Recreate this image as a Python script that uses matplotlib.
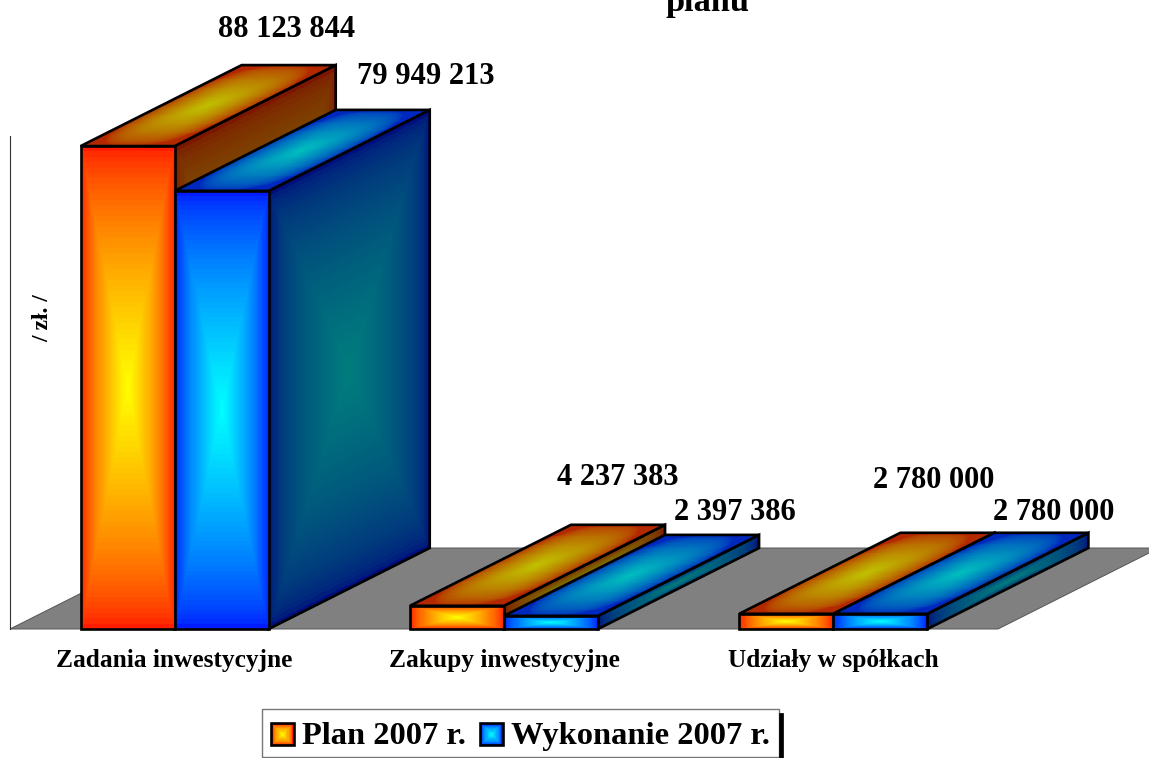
# ==========================================
# 3D BAR CHART - PLAN / WYKONANIE 2007
# ==========================================

import numpy as np
import matplotlib
matplotlib.use('Agg')
import matplotlib.pyplot as plt
from matplotlib.legend_handler import HandlerBase
from matplotlib.lines import Line2D
from matplotlib.patches import Patch, Polygon, Rectangle

plt.rcParams['font.family'] = ['Liberation Serif', 'DejaVu Sans']
plt.rcParams['font.weight'] = 'bold'

# ==========================================
# DATA
# ==========================================

categories = ['Zadania inwestycyjne', 'Zakupy inwestycyjne', 'Udziały w spółkach']
series_names = ['Plan 2007 r.', 'Wykonanie 2007 r.']
plan = [88123844, 4237383, 2780000]
wykonanie = [79949213, 2397386, 2780000]

# ==========================================
# STYLE
# ==========================================

W, H = 1149, 758
BAR_W = 0.2855
DEPTH_X = 0.489
DEPTH_Y = 14.78e6
LEGEND_SHIFT = -3.6  # legend content sits a bit low in its frame, in points

# edge colour, centre colour of each face
red_faces = {
    'front': ((255, 28, 0), (255, 255, 0)),
    'top': ((180, 40, 0), (192, 192, 0)),
    'side': ((125, 22, 0), (125, 125, 0)),
}
blue_faces = {
    'front': ((0, 28, 255), (0, 255, 255)),
    'top': ((0, 40, 190), (0, 190, 190)),
    'side': ((0, 15, 125), (0, 125, 125)),
}

# data label offsets in pixels from the back centre of the bar top
label_offsets = [
    [(-2, 36), (43, 33)],
    [(0, 47), (23, 22)],
    [(-14, 52), (12, 20)],
]


def shade(edge, centre, power, gamma, n=90):
    # power 0 means square shading, otherwise a rounded one
    u, v = np.meshgrid(np.linspace(0, 1, n), np.linspace(0, 1, n))
    a, b = np.abs(2 * u - 1), np.abs(2 * v - 1)
    if power == 0:
        d = np.maximum(a, b)
    else:
        d = (a ** power + b ** power) ** (1 / power)
    t = np.clip(1 - d, 0, 1)[..., None] ** gamma
    return np.clip((np.array(edge) * (1 - t) + np.array(centre) * t) / 255, 0, 1)


def draw_face(ax, corners, colours, power, gamma, z):
    # corners: bottom-left, bottom-right, top-right, top-left
    c = np.array(corners, dtype=float)
    n = 90
    s, r = np.meshgrid(np.linspace(0, 1, n + 1), np.linspace(0, 1, n + 1))
    bottom = c[0] + (c[1] - c[0]) * s[..., None]
    top = c[3] + (c[2] - c[3]) * s[..., None]
    xy = bottom + (top - bottom) * r[..., None]
    ax.pcolormesh(xy[..., 0], xy[..., 1], shade(*colours, power, gamma, n=n),
                  shading='flat', antialiased=False, linewidth=0,
                  clip_on=False, zorder=z, rasterized=True)
    ax.add_patch(Polygon(c, closed=True, fill=False, edgecolor='black',
                         linewidth=1.9, joinstyle='miter',
                         clip_on=False, zorder=z + 0.5))


def draw_bar(ax, x0, value, faces, z):
    x1 = x0 + BAR_W
    draw_face(ax, [(x1, 0), (x1 + DEPTH_X, DEPTH_Y),
                   (x1 + DEPTH_X, DEPTH_Y + value), (x1, value)],
              faces['side'], 0, 0.5, z)
    draw_face(ax, [(x0, value), (x1, value), (x1 + DEPTH_X, value + DEPTH_Y),
                   (x0 + DEPTH_X, value + DEPTH_Y)],
              faces['top'], 3, 0.6, z + 1)
    draw_face(ax, [(x0, 0), (x1, 0), (x1, value), (x0, value)],
              faces['front'], 0, 0.7, z + 2)


class GradientSquare(HandlerBase):
    # legend key: square made of nested rectangles
    def __init__(self, edge, centre):
        super().__init__()
        self.edge = np.array(edge)
        self.centre = np.array(centre)

    def create_artists(self, legend, orig_handle, xdescent, ydescent,
                       width, height, fontsize, trans):
        size = min(width, height)
        x = (width - size) / 2 - xdescent
        y = (height - size) / 2 - ydescent + LEGEND_SHIFT
        artists = []
        steps = 9
        for i in range(steps):
            f = i / steps
            inset = f * size / 2
            g = f ** 0.6
            col = np.clip((self.edge * (1 - g) + self.centre * g) / 255, 0, 1)
            artists.append(Rectangle((x + inset, y + inset), size - 2 * inset,
                                     size - 2 * inset, facecolor=col,
                                     edgecolor='none', transform=trans))
        artists.append(Rectangle((x, y), size, size, fill=False, edgecolor='black',
                                 linewidth=1.9, transform=trans))
        return artists


# ==========================================
# AXES
# ==========================================

fig = plt.figure(figsize=(W / 100, H / 100), dpi=100)
ax = fig.add_axes([10 / W, 129 / H, 988 / W, 493.2 / H])
ax.set_xlim(-0.5, 2.5)
ax.set_ylim(0, 90e6)
ax.set_yticks([])
ax.set_xticks(range(len(categories)))
ax.set_xticklabels(categories, fontsize=18.3, fontweight='bold')
ax.tick_params(axis='x', length=0, pad=14.5)
for name in ['top', 'right', 'bottom']:
    ax.spines[name].set_visible(False)
ax.spines['left'].set_color('#333333')
ax.spines['left'].set_linewidth(0.8)
ax.patch.set_alpha(0)
ax.set_ylabel('/ zł. /', fontsize=17, fontweight='bold')
ax.yaxis.set_label_coords(43 / 988, (629 - 318) / 493.2)

# floor
ax.add_patch(Polygon([(-0.5, 0), (2.5, 0), (2.5 + DEPTH_X, DEPTH_Y), (-0.5 + DEPTH_X, DEPTH_Y)],
                     closed=True, facecolor='#808080', edgecolor='#555555',
                     linewidth=0.7, clip_on=False, zorder=1))

# ==========================================
# BARS
# ==========================================

for i in range(len(categories)):
    draw_bar(ax, i - BAR_W, plan[i], red_faces, 10 + 10 * i)
    draw_bar(ax, i, wykonanie[i], blue_faces, 15 + 10 * i)

    for j, value in enumerate([plan[i], wykonanie[i]]):
        x_back = i - BAR_W + j * BAR_W + BAR_W / 2 + DEPTH_X
        text = f'{value:,}'.replace(',', ' ')
        ax.annotate(text, (x_back, value + DEPTH_Y), xytext=label_offsets[i][j],
                    textcoords='offset pixels', ha='center', va='center',
                    fontsize=22, fontweight='bold', annotation_clip=False, zorder=60)

# ==========================================
# TITLE (cut off at the top of the picture)
# ==========================================

fig.text(708 / W, 1 - 11 / H, 'planu', ha='center', va='baseline',
         fontsize=24.7, fontweight='bold')

# ==========================================
# LEGEND
# ==========================================

handles = [Patch(label=series_names[0]), Patch(label=series_names[1])]
handler_map = {
    handles[0]: GradientSquare(*red_faces['front']),
    handles[1]: GradientSquare(*blue_faces['front']),
}
legend = fig.legend(handles=handles, handler_map=handler_map, ncols=2,
                    loc='center', bbox_to_anchor=(520.5 / W, 1 - 733 / H),
                    prop={'size': 23.4, 'weight': 'bold'},
                    fancybox=False, framealpha=1, edgecolor='#777777',
                    handlelength=0.68, handleheight=0.68, handletextpad=0.25,
                    columnspacing=0.46, borderpad=0.28, borderaxespad=0)
legend.get_frame().set_linewidth(1.0)
for label in legend.get_texts():
    label.set_y(LEGEND_SHIFT)

# legend shadow on the right side
fig.add_artist(Line2D([781 / W, 781 / W], [1 - 715 / H, 1 - 757 / H],
                      color='black', linewidth=3.4, zorder=6))

fig.savefig('out.png', dpi=100)
